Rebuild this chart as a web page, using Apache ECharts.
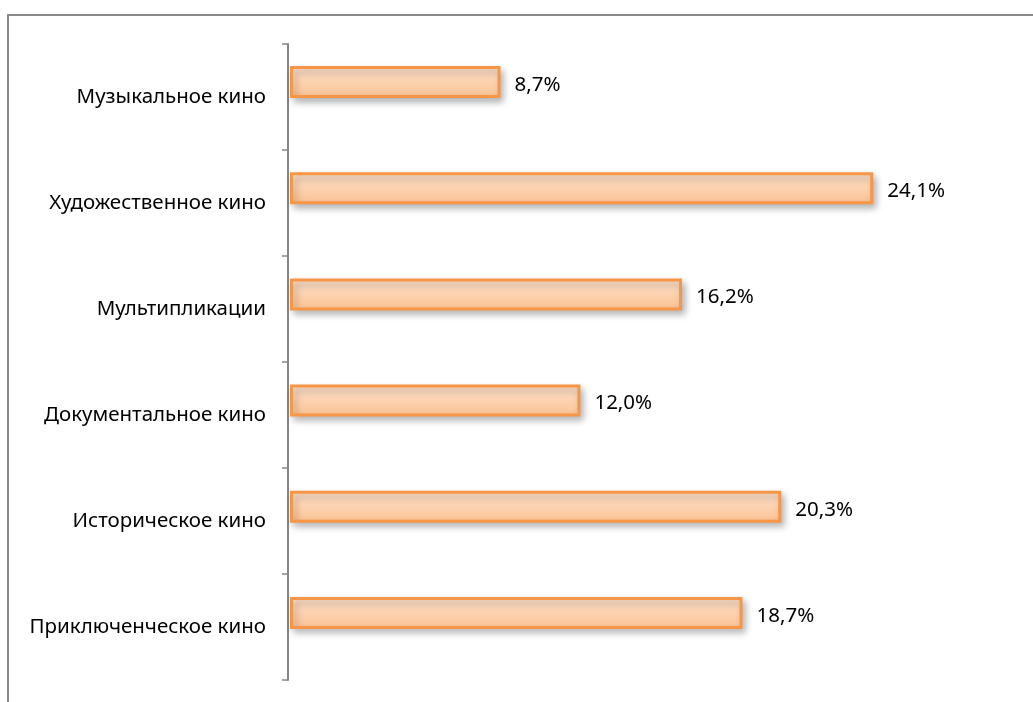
<!DOCTYPE html>
<html>
<head>
<meta charset="utf-8">
<script src="https://cdn.jsdelivr.net/npm/echarts@6/dist/echarts.min.js"></script>
<style>
html,body{margin:0;padding:0;background:#fff;}
#chart{width:1033px;height:702px;}
</style>
</head>
<body>
<div id="chart"></div>
<script>
var categories = ['Музыкальное кино', 'Художественное кино', 'Мультипликации', 'Документальное кино', 'Историческое кино', 'Приключенческое кино'];
var values = [8.7, 24.1, 16.2, 12.0, 20.3, 18.7];

var chart = echarts.init(document.getElementById('chart'));
var font = 'Noto Sans';
chart.setOption({
  animation: false,
  backgroundColor: '#ffffff',
  graphic: [{
    type: 'rect',
    shape: {x: 8, y: 15, width: 1200, height: 900},
    style: {fill: null, stroke: '#8a8a8a', lineWidth: 2},
    silent: true
  }],
  grid: [
    {left: 288, top: 44, width: 726, bottom: 22},
    {left: 290, top: 29, width: 726, bottom: 36}
  ],
  xAxis: [
    {gridIndex: 0, type: 'value', min: 0, max: 30, show: false},
    {gridIndex: 1, type: 'value', min: 0, max: 30, show: false}
  ],
  yAxis: [
    {
      gridIndex: 0, type: 'category', data: categories, inverse: true,
      axisLine: {show: true, lineStyle: {color: '#868686', width: 2}},
      axisTick: {show: true, length: 6, lineStyle: {color: '#868686', width: 1.5}},
      axisLabel: {color: '#000', fontSize: 20.5, fontFamily: font, margin: 22},
      splitLine: {show: false}
    },
    {
      gridIndex: 1, type: 'category', data: categories, inverse: true, show: false
    }
  ],
  series: [{
    type: 'bar',
    xAxisIndex: 1, yAxisIndex: 1,
    data: values,
    barWidth: 32,
    itemStyle: {
      color: {type: 'linear', x: 0, y: 0, x2: 0, y2: 1, colorStops: [
        {offset: 0, color: '#fee2cc'},
        {offset: 1, color: '#fbc293'}
      ]},
      borderColor: '#f79646',
      borderWidth: 3,
      shadowColor: 'rgba(0,0,0,0.28)',
      shadowBlur: 7,
      shadowOffsetX: 3,
      shadowOffsetY: 4
    },
    label: {
      show: true, position: 'right', distance: 14,
      color: '#000', fontSize: 20.5, fontFamily: font,
      offset: [0, 3],
      formatter: function (p) { return p.value.toFixed(1).replace('.', ',') + '%'; }
    }
  }]
});
</script>
</body>
</html>
